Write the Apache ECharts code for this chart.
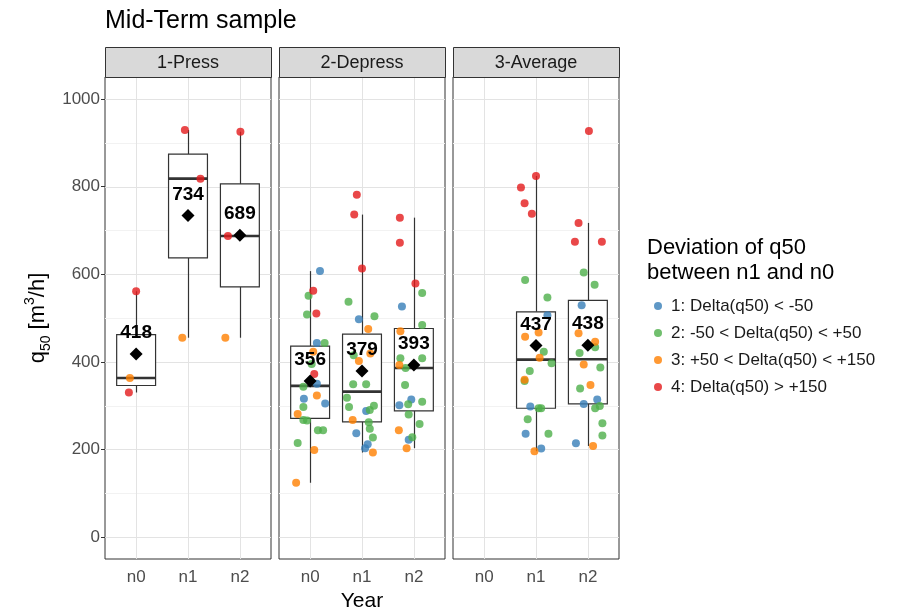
<!DOCTYPE html>
<html>
<head>
<meta charset="utf-8">
<script src="https://cdn.jsdelivr.net/npm/echarts@6/dist/echarts.min.js"></script>
<style>
  html, body { margin: 0; padding: 0; background: #ffffff; }
  #chart { width: 911px; height: 611px; }
</style>
</head>
<body>
<div id="chart"></div>
<script>
// ---- data -------------------------------------------------------------
const FACETS = ['1-Press', '2-Depress', '3-Average'];
const YEARS = ['n0', 'n1', 'n2'];
const GROUPS = [
  '1: Delta(q50) < -50',
  '2: -50 < Delta(q50) < +50',
  '3: +50 < Delta(q50) < +150',
  '4: Delta(q50) > +150'
];
const Y_TICKS = [0, 200, 400, 600, 800, 1000];
const Y_MINOR = [100, 300, 500, 700, 900];

// box statistics per year: [lower whisker, Q1, median, Q3, upper whisker]
const PRESS_BOX   = [[330, 346, 363, 462, 561], [455, 637, 818, 874, 929], [455, 571, 687, 806, 925]];
const DEPRESS_BOX = [[124, 271, 345, 436, 607], [193, 263, 332, 463, 736], [203, 288, 386, 476, 729]];
const AVERAGE_BOX = [null, [196, 294, 405, 514, 824], [208, 304, 406, 540, 717]];

// mean q50 per year
const PRESS_MEAN   = [418, 734, 689];
const DEPRESS_MEAN = [356, 379, 393];
const AVERAGE_MEAN = [null, 437, 438];

// individual sites: [year index, deviation group, q50, jitter]
const PRESS_POINTS = [
  [0, 3, 561, 0.00], [0, 2, 363, -0.12], [0, 3, 330, -0.14],
  [1, 3, 929, -0.06], [1, 3, 818, 0.24], [1, 2, 455, -0.11],
  [2, 3, 925, 0.01], [2, 3, 687, -0.23], [2, 2, 455, -0.28]
];
const DEPRESS_POINTS = [
  [0, 0, 607, 0.19], [0, 3, 562, 0.06], [0, 1, 551, -0.03], [0, 1, 508, -0.06], [0, 3, 510, 0.12],
  [0, 0, 443, 0.13], [0, 1, 443, 0.28], [0, 2, 423, 0.06], [0, 1, 395, 0.03], [0, 3, 372, 0.08],
  [0, 1, 343, -0.13], [0, 0, 350, 0.13], [0, 0, 316, -0.12], [0, 2, 323, 0.13], [0, 0, 305, 0.29],
  [0, 1, 297, -0.13], [0, 2, 281, -0.24], [0, 1, 267, -0.13], [0, 1, 266, -0.06], [0, 1, 244, 0.15],
  [0, 1, 244, 0.25], [0, 1, 215, -0.24], [0, 2, 199, 0.08], [0, 2, 124, -0.27],
  [1, 3, 781, -0.10], [1, 3, 736, -0.15], [1, 3, 613, 0.00], [1, 1, 537, -0.26], [1, 0, 497, -0.06],
  [1, 1, 504, 0.24], [1, 2, 475, 0.12], [1, 2, 419, 0.16], [1, 1, 415, -0.16], [1, 2, 402, -0.06],
  [1, 1, 349, -0.17], [1, 1, 349, 0.08], [1, 1, 318, -0.29], [1, 1, 297, -0.25], [1, 0, 288, 0.08],
  [1, 1, 290, 0.15], [1, 1, 300, 0.23], [1, 2, 267, -0.18], [1, 1, 262, 0.13], [1, 1, 247, 0.15],
  [1, 0, 237, -0.11], [1, 1, 227, 0.21], [1, 0, 212, 0.11], [1, 0, 203, 0.06], [1, 2, 193, 0.21],
  [2, 3, 729, -0.27], [2, 3, 672, -0.27], [2, 3, 579, 0.03], [2, 1, 557, 0.16], [2, 0, 526, -0.23],
  [2, 1, 484, 0.16], [2, 2, 470, -0.26], [2, 1, 408, -0.26], [2, 2, 393, -0.28], [2, 1, 386, -0.16],
  [2, 1, 408, 0.16], [2, 1, 347, -0.17], [2, 0, 314, -0.05], [2, 0, 301, -0.28], [2, 1, 303, -0.11],
  [2, 1, 309, 0.16], [2, 1, 280, -0.10], [2, 1, 258, 0.11], [2, 2, 244, -0.29], [2, 0, 222, -0.10],
  [2, 1, 228, -0.03], [2, 2, 203, -0.14]
];
const AVERAGE_POINTS = [
  [1, 3, 824, 0.00], [1, 3, 798, -0.29], [1, 3, 762, -0.22], [1, 3, 738, -0.08], [1, 1, 587, -0.21],
  [1, 1, 547, 0.22], [1, 0, 506, 0.22], [1, 2, 457, -0.21], [1, 2, 467, 0.05], [1, 1, 423, 0.15],
  [1, 2, 409, 0.07], [1, 1, 397, 0.30], [1, 1, 379, -0.12], [1, 2, 359, -0.22], [1, 1, 356, -0.22],
  [1, 0, 298, -0.11], [1, 1, 294, 0.05], [1, 1, 294, 0.10], [1, 1, 269, -0.16], [1, 0, 236, -0.20],
  [1, 1, 236, 0.24], [1, 2, 196, -0.03], [1, 0, 202, 0.10],
  [2, 3, 927, 0.02], [2, 3, 717, -0.18], [2, 3, 674, -0.25], [2, 3, 674, 0.27], [2, 1, 604, -0.08],
  [2, 1, 576, 0.13], [2, 0, 529, -0.12], [2, 2, 465, -0.18], [2, 2, 446, 0.14], [2, 1, 433, 0.14],
  [2, 1, 420, -0.16], [2, 2, 394, -0.08], [2, 1, 387, 0.24], [2, 2, 347, 0.05], [2, 1, 339, -0.15],
  [2, 0, 304, -0.08], [2, 0, 314, 0.18], [2, 1, 294, 0.14], [2, 1, 299, 0.23], [2, 1, 260, 0.28],
  [2, 0, 214, -0.23], [2, 1, 232, 0.28], [2, 2, 208, 0.10]
];

// ---- styling / layout -------------------------------------------------
const GROUP_COLORS = ['#377eb8', '#4daf4a', '#ff7f00', '#e41a1c'];
const FONT = '"Liberation Sans", Arial, Helvetica, sans-serif';
const PANEL_LEFT = [105, 279, 453];
const PANEL_W = 166;
const PANEL_TOP = 77;
const PANEL_H = 482;
const STRIP_TOP = 47;
const STRIP_H = 30;
const BOX_HALF = 0.375;

const boxes = [PRESS_BOX, DEPRESS_BOX, AVERAGE_BOX];
const means = [PRESS_MEAN, DEPRESS_MEAN, AVERAGE_MEAN];
const points = [PRESS_POINTS, DEPRESS_POINTS, AVERAGE_POINTS];

const grids = [], xAxes = [], yAxes = [], series = [], graphics = [];

FACETS.forEach((facet, p) => {
  grids.push({
    left: PANEL_LEFT[p], top: PANEL_TOP, width: PANEL_W, height: PANEL_H,
    outerBoundsMode: 'none', containLabel: false,
    show: true, backgroundColor: '#ffffff', borderColor: '#333333', borderWidth: 1
  });

  xAxes.push({
    type: 'value', gridIndex: p, min: 0.4, max: 3.6,
    axisLine: { show: false },
    splitLine: { show: false },
    axisTick: { show: true, customValues: [1, 2, 3], length: 4, lineStyle: { color: '#333333' } },
    axisLabel: {
      customValues: [1, 2, 3], margin: 10,
      formatter: v => YEARS[Math.round(v) - 1],
      fontSize: 17, color: '#4d4d4d', fontFamily: FONT
    },
    name: p === 1 ? 'Year' : '',
    nameLocation: 'middle', nameGap: 31,
    nameTextStyle: { fontSize: 21, color: '#000000', fontFamily: FONT }
  });

  yAxes.push({
    type: 'value', gridIndex: p, min: -50, max: 1050,
    axisLine: { show: false },
    splitLine: { show: false },
    axisTick: { show: p === 0, customValues: Y_TICKS, length: 4, lineStyle: { color: '#333333' } },
    axisLabel: {
      show: p === 0, customValues: Y_TICKS, margin: 5,
      formatter: v => String(v),
      fontSize: 17, color: '#4d4d4d', fontFamily: FONT
    },
    name: p === 0 ? '{a|q}{s|50}{a| [m}{u|3}{a|/h]}' : '',
    nameLocation: 'middle', nameRotate: 90, nameGap: 52,
    nameTextStyle: {
      fontFamily: FONT, color: '#000000', fontSize: 22,
      rich: {
        a: { fontSize: 22, lineHeight: 30, color: '#000000', fontFamily: FONT },
        s: { fontSize: 14, lineHeight: 16, verticalAlign: 'bottom', color: '#000000', fontFamily: FONT },
        u: { fontSize: 14, lineHeight: 16, verticalAlign: 'top', color: '#000000', fontFamily: FONT }
      }
    }
  });

  // panel grid lines (minor then major, horizontal and vertical)
  const gridLineData = [
    ...Y_MINOR.map(v => [v, 0, 0]),
    ...Y_TICKS.map(v => [v, 0, 1]),
    ...YEARS.map((y, i) => [i + 1, 1, 1])
  ];
  series.push({
    type: 'custom', xAxisIndex: p, yAxisIndex: p, silent: true, z: 1,
    data: gridLineData,
    renderItem: (params, api) => {
      const cs = params.coordSys;
      const v = api.value(0), vertical = api.value(1) === 1, major = api.value(2) === 1;
      const style = { stroke: major ? '#e3e3e3' : '#f2f2f2', lineWidth: 1 };
      if (vertical) {
        const x = Math.round(api.coord([v, 0])[0]) + 0.5;
        return { type: 'line', shape: { x1: x, y1: cs.y, x2: x, y2: cs.y + cs.height }, style };
      }
      const y = Math.round(api.coord([1, v])[1]) + 0.5;
      return { type: 'line', shape: { x1: cs.x, y1: y, x2: cs.x + cs.width, y2: y }, style };
    }
  });

  // boxplots
  const boxData = [];
  boxes[p].forEach((b, i) => { if (b) boxData.push([i + 1, ...b]); });
  series.push({
    type: 'custom', xAxisIndex: p, yAxisIndex: p, silent: true, z: 2,
    data: boxData,
    renderItem: (params, api) => {
      const x = api.value(0);
      const yOf = v => api.coord([x, v])[1];
      const xc = Math.round(api.coord([x, 0])[0]) + 0.5;
      const xl = api.coord([x - BOX_HALF, 0])[0];
      const xr = api.coord([x + BOX_HALF, 0])[0];
      const lo = yOf(api.value(1)), q1 = yOf(api.value(2)), med = yOf(api.value(3));
      const q3 = yOf(api.value(4)), hi = yOf(api.value(5));
      const stroke = '#333333';
      return {
        type: 'group',
        children: [
          { type: 'line', shape: { x1: xc, y1: q3, x2: xc, y2: hi }, style: { stroke, lineWidth: 1.2 } },
          { type: 'line', shape: { x1: xc, y1: q1, x2: xc, y2: lo }, style: { stroke, lineWidth: 1.2 } },
          { type: 'rect', shape: { x: xl, y: q3, width: xr - xl, height: q1 - q3 },
            style: { fill: '#ffffff', stroke, lineWidth: 1.2 } },
          { type: 'line', shape: { x1: xl, y1: med, x2: xr, y2: med }, style: { stroke, lineWidth: 2.6 } }
        ]
      };
    }
  });

  // jittered sites, one series per deviation group
  GROUPS.forEach((g, gi) => {
    series.push({
      type: 'scatter', name: g, xAxisIndex: p, yAxisIndex: p, z: 3,
      symbol: 'circle', symbolSize: 8,
      itemStyle: { color: GROUP_COLORS[gi], opacity: 0.8 },
      data: points[p].filter(pt => pt[1] === gi).map(pt => [pt[0] + 1 + pt[3], pt[2]])
    });
  });

  // means with value labels
  const meanData = [];
  means[p].forEach((m, i) => { if (m != null) meanData.push([i + 1, m]); });
  series.push({
    type: 'scatter', xAxisIndex: p, yAxisIndex: p, z: 5, silent: true,
    symbol: 'diamond', symbolSize: 13,
    itemStyle: { color: '#000000', opacity: 1 },
    label: {
      show: true, position: 'top', distance: 5,
      formatter: prm => String(prm.value[1]),
      fontSize: 19, fontWeight: 'bold', color: '#000000', opacity: 1, fontFamily: FONT
    },
    data: meanData
  });

  // facet strip
  graphics.push({
    type: 'rect', z: 10,
    shape: { x: PANEL_LEFT[p] + 0.5, y: STRIP_TOP + 0.5, width: PANEL_W, height: STRIP_H },
    style: { fill: '#d9d9d9', stroke: '#333333', lineWidth: 1 }
  });
  graphics.push({
    type: 'text', z: 11,
    x: PANEL_LEFT[p] + PANEL_W / 2, y: STRIP_TOP + STRIP_H / 2 + 1,
    style: {
      text: facet, align: 'center', verticalAlign: 'middle',
      fontSize: 18, fill: '#1a1a1a', fontFamily: FONT
    }
  });
});

const chart = echarts.init(document.getElementById('chart'), null, { renderer: 'canvas' });
chart.setOption({
  animation: false,
  backgroundColor: '#ffffff',
  title: [
    {
      text: 'Mid-Term sample', left: 105, top: 9, padding: 0,
      textStyle: { fontSize: 25, fontWeight: 'normal', color: '#000000', fontFamily: FONT }
    },
    {
      text: 'Deviation of q50\nbetween n1 and n0', left: 647, top: 235, padding: 0,
      textStyle: { fontSize: 22, lineHeight: 25, fontWeight: 'normal', color: '#000000', fontFamily: FONT }
    }
  ],
  legend: {
    data: GROUPS, orient: 'vertical', left: 654, top: 297,
    icon: 'circle', itemWidth: 8, itemHeight: 8, itemGap: 9,
    selectedMode: false, padding: 0,
    textStyle: { fontSize: 17, lineHeight: 18, color: '#1a1a1a', fontFamily: FONT, padding: [0, 0, 0, 4] }
  },
  grid: grids,
  xAxis: xAxes,
  yAxis: yAxes,
  series: series,
  graphic: graphics
});
</script>
</body>
</html>
